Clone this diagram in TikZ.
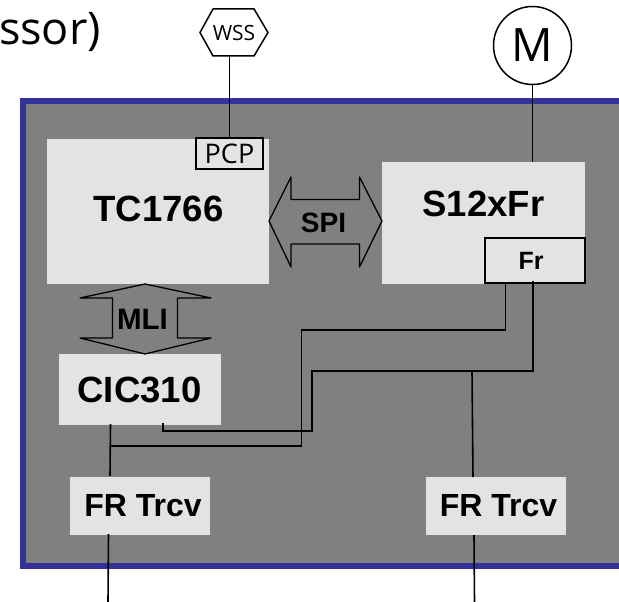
\documentclass[tikz,border=0pt]{standalone}
\usepackage{fontspec}
\setmainfont{Liberation Sans}
\newfontfamily\thin{Open Sans}
\definecolor{frameblue}{RGB}{51,51,153}
\definecolor{panelgray}{RGB}{128,128,128}
\definecolor{chipgray}{RGB}{227,227,227}
\newcommand{\fsz}[1]{\fontsize{#1}{#1}\selectfont}
\tikzset{
  x=1pt,y=-1pt,
  wire/.style={draw=black,line width=1.6pt,line join=miter},
  chip/.style={fill=chipgray,draw=none,inner sep=0pt,outer sep=0pt,font=\bfseries\fsz{36.5}},
  trcv/.style={chip,minimum width=140pt,minimum height=58pt,font=\bfseries\fsz{32}},
  arrowshape/.style={draw=black,line width=1.3pt,line join=round},
  arrowlabel/.style={inner sep=0pt,font=\bfseries\fsz{28}},
  port/.style={draw=black,line width=1.5pt,inner sep=0pt,outer sep=0pt}
}
\begin{document}
\begin{tikzpicture}
\useasboundingbox (0,0) rectangle (619,602);
\clip (0,0) rectangle (619,602);
% panel
\path[fill=panelgray,draw=frameblue,line width=6pt] (23,101) rectangle (640,566);
% title fragment
\node[anchor=base east,inner sep=0pt,font=\thin\fsz{45}] (title) at (101,44.5) {ssor)};
% chips
\node[chip,minimum width=222pt,minimum height=145pt] (tc) at (158,211.5) {};
\node[font=\bfseries\fsz{36.5},inner sep=0pt] (tctext) at (158.5,209) {TC1766};
\node[chip,minimum width=203pt,minimum height=122pt] (s12) at (483.5,223) {};
\node[font=\bfseries\fsz{36.5},inner sep=0pt] (s12text) at (483.5,204) {S12xFr};
\node[chip,minimum width=162pt,minimum height=71pt] (cic) at (139.5,389.5) {CIC310};
\node[trcv] (trl) at (140,505.5) {\hspace*{6pt}FR Trcv};
\node[trcv] (trr) at (496,506) {\hspace*{5pt}FR Trcv};
% ports
\node[port,fill=chipgray,minimum width=67pt,minimum height=31pt,font=\thin\fsz{27}] (pcp) at (229.5,153.5) {PCP};
\node[port,fill=chipgray,minimum width=100pt,minimum height=45pt,font=\bfseries\fsz{25}] (fr) at (535,260.5) {\hspace*{-8pt}Fr};
% externals
\node[inner sep=0pt,outer sep=0pt,minimum width=68pt,minimum height=47pt] (wss) at (234,32.5) {};
\path[port,fill=white] (wss.west) -- (213,9) -- (254,9) -- (wss.east) -- (254,56) -- (213,56) -- cycle;
\node[inner sep=0pt,font=\thin\fsz{21}] (wsstext) at (wss.center) {WSS};
\node[port,fill=white,circle,minimum size=78pt,font=\thin\fsz{46}] (m) at (532.5,45.5) {\raisebox{-2pt}{M}};
% connectors
\coordinate (wssout) at (229.5,56);
\draw[wire] (wssout) -- (pcp.north);
\draw[wire] (m.south) -- (m.south |- s12.north);
% bidirectional arrows
\draw[arrowshape] (269,221) -- (291,177) -- (291,199.5) -- (359.5,199.5) -- (359.5,177) -- (382,221) -- (359.5,267) -- (359.5,244) -- (291,244) -- (291,267) -- cycle;
\node[arrowlabel] (spi) at (323.5,223) {SPI};
\draw[arrowshape] (145,284) -- (211,298) -- (177.5,298) -- (177.5,338) -- (211,338) -- (145,354) -- (80,338) -- (112.5,338) -- (112.5,298) -- (80,298) -- cycle;
\node[arrowlabel,font=\bfseries\fsz{29.5}] (mli) at (142.5,319.5) {MLI};
% bus wires
\coordinate (cicA) at (110.5,424);
\coordinate (cicB) at (163,423);
\coordinate (frA) at (505.5,282);
\coordinate (frB) at (533,281);
\coordinate (tlTop) at (110,476);
\coordinate (tlBot) at (108.5,534);
\coordinate (trTop) at (473,477);
\coordinate (trBot) at (474,535);
\coordinate (endL) at (108,602);
\coordinate (endR) at (474.5,602);
\coordinate (busL) at (111,446);
\coordinate (busR) at (472,371);
\draw[wire] (cicA) -- (tlTop);
\draw[wire] (busL) -- (301.5,446) -- (301.5,330) -- (505.5,330) -- (frA);
\draw[wire] (cicB) -- (163,431) -- (312,431) -- (312,371) -- (533,371) -- (frB);
\draw[wire] (busR) -- (trTop);
\draw[wire] (tlBot) -- (endL);
\draw[wire] (trBot) -- (endR);
\end{tikzpicture}
\end{document}
